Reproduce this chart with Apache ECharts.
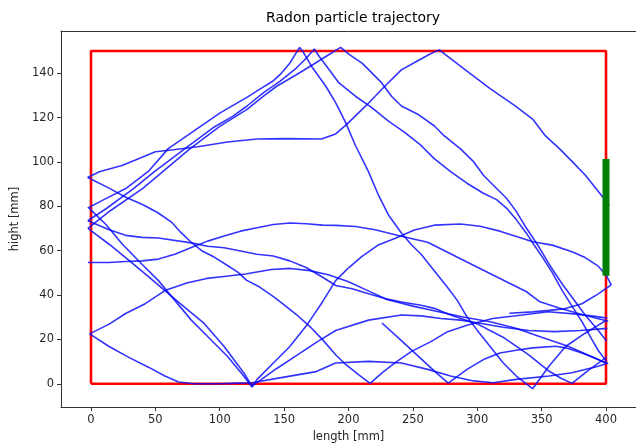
<!DOCTYPE html>
<html><head><meta charset="utf-8">
<script src="https://cdn.jsdelivr.net/npm/echarts@6/dist/echarts.min.js"></script>
<style>html,body{margin:0;padding:0;background:#fff}#c{width:636px;height:448px}</style>
</head><body><div id="c"></div>
<script>
const xTicks=[0,50,100,150,200,250,300,350,400];
const yTicks=[0,20,40,60,80,100,120,140];
const chamber=[[0,0],[400,0],[400,150],[0,150],[0,0]];
const detector=[[400,48.7],[400,101.3]];

const trajA=[[-2.7,93],[6.5,95.6],[24,98.4],[35,101],[50,104.6],[64,105.5],[83,106.8],[106,109],[129,110.3],[150,110.5],[179,110.3],[190,112.6],[198,116.6],[213,125],[228,134],[241,141.5],[253.5,145.5],[263,148.5],[270.4,150.5],[289.5,142],[310,133],[330,125],[343,119.3],[353,111.7],[364,105.9],[374,100],[384,94],[397,84.5],[402.7,80.5]];
const trajB=[[-2.5,93],[14,88.2],[27,84.1],[40,80.8],[52,77.1],[63,72.6],[70,68.1],[78,63.7],[86,60],[96,57],[106,53.3],[114,50.3],[121,46.6],[131,43.6],[142,39.2],[152,34.7],[160,31],[170,25.8],[180,19.8],[190,13.1],[198,8.6],[208,4],[216.8,0.2],[226,4.9],[236,9.4],[249,14.6],[264,19],[277,23.5],[292,26.4],[312,29.4],[335,31],[355,32.5],[375,31.5],[390,30.5],[401,29.6]];
const trajC=[[-2.5,79.2],[10,83],[27,88],[45,96],[60,106],[80,114],[100,122],[121.4,129.2],[131.5,132.9],[141.7,136.6],[146.8,139.3],[154.4,144.5],[162,151.6],[164.6,149.7],[172.2,142.3],[182.4,134.1],[190,126.7],[197.7,117.8],[205.4,107.4],[215.6,95.5],[223.2,85.1],[230.9,76.2],[241.1,68],[248.7,62.8],[256.4,58.4],[266.6,51],[276.8,43.5],[284.5,37.6],[292,30.2],[299.8,24.3],[310,16.8],[320.2,9.4],[330.3,3.5],[343,-2.2],[355.8,8],[368.6,16.8],[383.8,22.8],[400.4,28.7]];
const trajD=[[-1.5,79.2],[11.6,71.8],[24.4,62.9],[39.6,53.9],[52.4,46.5],[65.1,37.6],[77.9,28.7],[90.6,21.3],[105.9,12.4],[118.6,3.5],[125,-1.5],[129,2],[141.6,9.4],[154.4,16.8],[167.1,26],[179.9,37],[190,46.5],[200.3,52.4],[210.5,57.4],[223.2,62.6],[235.9,65.5],[251.2,69.3],[266.6,71.5],[287,72],[302.3,71],[317.6,68.8],[332.9,65.9],[343,64],[358.3,62.5],[373.6,59.5],[383.8,56.9],[394,53],[400.4,48.7],[404,44.6],[394,40.5],[381.3,36.1],[368.5,33.9],[355.8,33.1],[343,32.4],[325,31.8]];
const trajE=[[-2.5,73.5],[12,79],[33,88],[50,96],[73,106],[95,115.5],[110,120.5],[121.2,125.2],[134,131.2],[146.7,136.3],[159.5,142.3],[167.1,146.7],[173.5,150.9],[177.3,147.5],[185,141.5],[192.6,135.6],[205.4,129.6],[218.1,124.5],[230.8,118.5],[243.6,113.3],[256.4,107.4],[266.6,101.5],[279.3,95.6],[292,90.4],[304.8,85.9],[315,83],[322.7,79.2],[330.3,74],[338,68],[343,63.6],[350.7,57],[358.4,50],[366,42],[373.6,35],[381.3,28],[389,20],[394,15],[400.4,10]];
const trajF=[[-2.4,70],[15,78],[40,88],[77,106],[100,116],[121.2,123.7],[134,129.6],[144.2,134.1],[159.5,139.3],[172.2,143.8],[182.4,147.5],[193.9,151.6],[200.2,148.6],[210.5,144.5],[218.1,140.1],[225.8,135.6],[233.4,129.6],[241.1,125.2],[253.8,121.5],[266.5,116.3],[274.2,111.8],[287,105.9],[297.3,100],[304.8,94],[312.5,89.5],[322.7,83.6],[330.3,77.7],[338,70.3],[348.2,61.4],[355.8,53.9],[366,45],[373.6,39],[383.8,31],[394,24],[400.4,19.3]];
const trajG=[[-2.4,70],[14.1,62.9],[26.9,56.9],[42.1,49.5],[57.4,42],[72.6,34.6],[87.9,27.2],[103.4,16.8],[118.6,5],[125,-1],[128.9,0.5],[144,6.8],[159.5,12.7],[175,18.7],[190,24],[215.6,28.7],[241.1,31],[256.4,30.6],[271.7,29.4],[287,28.7],[300,27.5],[320,25.5],[340,24],[360,23.5],[380,24],[401,25]];
const trajH=[[-2.4,73.5],[14.1,69.4],[26.9,66.9],[39.6,66],[52.4,65.7],[77.9,63.5],[90.6,62],[103.4,61.3],[128.9,58.4],[141.6,57.6],[154.4,55.4],[167.1,52.4],[179.9,48],[190.1,44.3],[202.8,42.8],[215.6,40.6],[228.3,38.4],[241.1,36.9],[256.4,35.4],[266.6,34],[279.3,31],[300,27],[320,21],[340,13],[355,6],[365,2.5],[373.6,0.2],[385,5.5],[400.5,12]];
const trajI=[[-2.4,54.7],[14.1,54.7],[26.9,55.1],[39.6,55.4],[52.4,56.2],[65.1,58.4],[77.9,61.4],[90.6,64.3],[103.4,66.6],[116.1,68.8],[128.9,70.3],[141.6,71.8],[154.4,72.5],[167.1,72.1],[180,71.5],[190.1,71.4],[205.4,70.9],[220.7,69.4],[241,66.5],[261.5,63.8],[274.2,60.1],[292,54.9],[304.8,51.2],[322.7,46],[338,41.6],[348.2,37.1],[363.5,34.2],[381.3,31.2],[401.7,28.2]];
const trajJ=[[-1.1,22.5],[14.1,26.9],[26.9,31.7],[42.1,36.1],[57.4,42],[75,45.5],[90,47.5],[105,48.5],[120,49.5],[140,51.5],[155,52],[170,51],[185,49],[200,46],[215,42],[230,38],[250,35],[270,32.5],[290,30],[310,28],[330,25],[350,21],[370,17],[390,12],[401,9]];
const trajK=[[-1.1,22.5],[14.1,16.8],[29.4,11.9],[44.6,7.5],[57.4,3.5],[68,0.8],[80,0],[100,0],[115,0.3],[125,0.5],[150,3],[175,5.5],[190,9.4],[215.6,10.1],[241.1,9.4],[261.5,6.5],[279.3,3.5],[297.2,1.3],[312.5,0.5],[330.3,2],[355.8,3.5],[373.6,5],[394,7.9],[401.7,9.4]];
const trajL=[[226,27.4],[240,20],[255,12],[268,5],[277.5,0.3],[292,6.5],[304.8,10.9],[317.6,13.9],[330.3,15.1],[343.1,16.2],[360.9,16.9],[368.6,16.2],[381.3,13.9],[394.1,10.9],[400.4,9.4]];

const trajectories=[trajA,trajB,trajC,trajD,trajE,trajF,trajG,trajH,trajI,trajJ,trajK,trajL];

const chart=echarts.init(document.getElementById('c'),null,{renderer:'canvas'});
const series=[];
series.push({type:'line',data:chamber,showSymbol:false,silent:true,z:2,lineStyle:{color:'#ff0000',width:2.6}});
trajectories.forEach(function(t){
  series.push({type:'line',data:t,showSymbol:false,silent:true,z:3,lineStyle:{color:'rgba(0,0,255,0.8)',width:1.6}});
});
series.push({type:'line',data:detector,showSymbol:false,silent:true,z:4,lineStyle:{color:'#008000',width:7}});

const txt='#262626';
const font='DejaVu Sans';
chart.setOption({
  animation:false,
  title:{text:'Radon particle trajectory',left:266,top:11,padding:0,textStyle:{fontFamily:font,fontSize:14,fontWeight:'normal',color:'#000'}},
  grid:{left:61,top:31,right:-9,bottom:37},
  xAxis:[{type:'value',min:-23.3,max:423.3,name:'length [mm]',nameLocation:'middle',nameGap:22,
    nameTextStyle:{fontFamily:font,fontSize:11.5,color:txt},
    axisLine:{show:true,onZero:false,lineStyle:{color:'#333',width:1}},
    axisTick:{show:true,length:4,lineStyle:{color:'#333'},customValues:xTicks},
    axisLabel:{show:true,margin:7,fontFamily:font,fontSize:11.5,color:txt,customValues:xTicks},
    splitLine:{show:false}},
    {type:'value',position:'top',min:-23.3,max:423.3,
    axisLine:{show:true,onZero:false,lineStyle:{color:'#333',width:1}},
    axisTick:{show:false},axisLabel:{show:false},splitLine:{show:false}}],
  yAxis:{type:'value',position:'left',min:-10.5,max:159,name:'hight [mm]',nameLocation:'middle',nameGap:34,
    nameTextStyle:{fontFamily:font,fontSize:11.5,color:txt},
    axisLine:{show:true,onZero:false,lineStyle:{color:'#333',width:1}},
    axisTick:{show:true,length:4,lineStyle:{color:'#333'},customValues:yTicks},
    axisLabel:{show:true,margin:7,fontFamily:font,fontSize:11.5,color:txt,customValues:yTicks},
    splitLine:{show:false}},
  series:series
});
</script></body></html>
